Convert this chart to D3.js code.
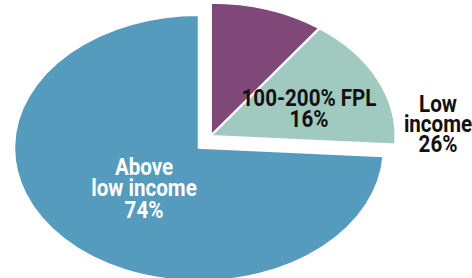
<!DOCTYPE html>
<html>
<head>
<meta charset="utf-8">
<script src="https://cdn.jsdelivr.net/npm/d3@7"></script>
<style>
  body { margin: 0; background: #fff; }
  text { font-family: Roboto, "Liberation Sans", sans-serif; font-weight: bold; }
</style>
</head>
<body>
<script>
// data
var categories = ["Below 100% FPL", "100-200% FPL", "Above low income"];
var values = [10, 16, 74];
var colors = ["#804878", "#a0cac0", "#559bbd"];
var exploded = [true, true, false]; // low income group is pulled out

var width = 472, height = 278;
var cx = 199, cy = 148;
var rx = 185, ry = 133;
var fontSize = 23;

var svg = d3.select("body").append("svg")
    .attr("width", width)
    .attr("height", height);

var pie = d3.pie().sort(null).value(function(d) { return d; });
var arcs = pie(values);

var arc = d3.arc().innerRadius(0).outerRadius(rx);

// explode offset along the middle of the low income group
var groupEnd = arcs[1].endAngle;
var mid = groupEnd / 2;
var off = 16;
var ox = off * Math.sin(mid), oy = -off * Math.cos(mid) * 1.1;

var slice = svg.selectAll(".slice")
    .data(arcs)
    .enter().append("g")
    .attr("class", "slice")
    .attr("transform", function(d, i) {
        var tx = cx + (exploded[i] ? ox : 0);
        var ty = cy + (exploded[i] ? oy : 0);
        return "translate(" + tx + "," + ty + ") scale(1," + (ry / rx) + ")";
    });

slice.append("path")
    .attr("d", arc)
    .style("fill", function(d, i) { return colors[i]; })
    .style("stroke", "#fff")
    .style("stroke-width", 2.5);

// condensed look: measure a reference string and squeeze horizontally
var probe = svg.append("text").style("font-size", fontSize + "px").text(categories[1]);
var sx = 135 / probe.node().getComputedTextLength();
probe.remove();

function addLabel(x, y, lines, fill, lh) {
    var g = svg.append("g")
        .attr("transform", "translate(" + x + "," + y + ") scale(" + sx + ",1)");
    var t = g.append("text")
        .attr("text-anchor", "middle")
        .style("font-size", fontSize + "px")
        .style("fill", fill);
    lines.forEach(function(l, i) {
        t.append("tspan").attr("x", 0).attr("y", i * lh).text(l);
    });
}

addLabel(309, 106, [categories[1], values[1] + "%"], "#111", 21);
addLabel(438, 112, ["Low", "income", (values[0] + values[1]) + "%"], "#111", 20);
addLabel(144, 175, ["Above", "low income", values[2] + "%"], "#fff", 21.5);
</script>
</body>
</html>
